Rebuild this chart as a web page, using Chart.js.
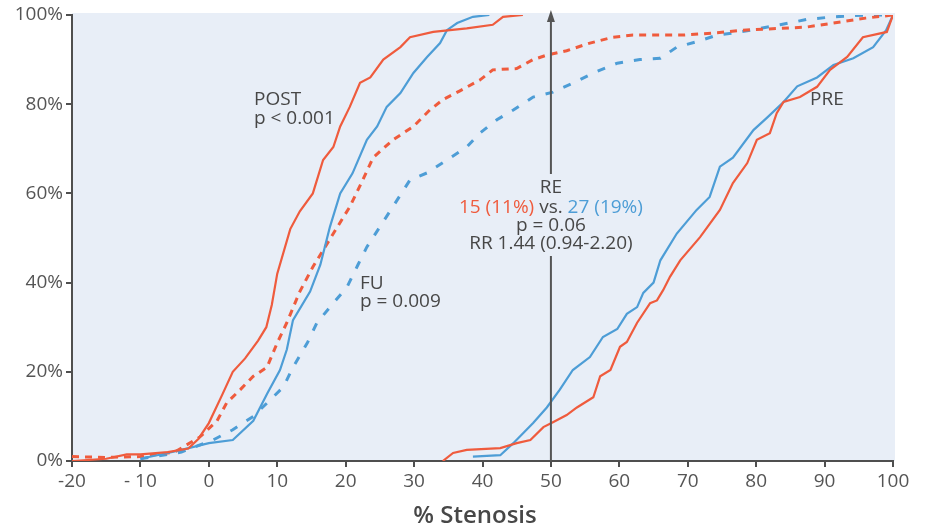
<!DOCTYPE html>
<html>
<head>
<meta charset="utf-8">
<script src="https://cdn.jsdelivr.net/npm/chart.js@4.4.1/dist/chart.umd.min.js"></script>
<style>
  html, body { margin: 0; padding: 0; background: #fff; }
  #wrap { width: 926px; height: 531px; }
</style>
</head>
<body>
<div id="wrap"><canvas id="myChart" width="926" height="531"></canvas></div>
<script>
/* global Chart */

// x ticks run -20..100, y ticks 0..100%
let xTicks = [-20, -10, 0, 10, 20, 30, 40, 50, 60, 70, 80, 90, 100];
let yTicks = [0, 20, 40, 60, 80, 100];

// POST, solid lines
let postRedX = [-20, -15, -12, -10, -6, -3, -1.5, 0, 2, 3.5, 5.3, 7.2, 8.4, 9.2, 10, 11.9, 13.3, 15.2, 16.7, 18.2, 19.2, 20.6, 22.1, 23.6, 25.5, 28, 29.4, 32.8, 37.7, 41.5, 43, 45.9];
let postRedY = [0, 0.5, 1.5, 1.5, 2, 2.8, 5, 8.5, 15, 20, 23, 27, 30, 35, 42, 52, 56, 60, 67.5, 70.4, 75, 79.4, 84.8, 86, 90, 92.8, 95, 96.2, 97, 97.8, 99.6, 100];
let postBlueX = [-10, -6, -4, 0, 3.5, 6.5, 8.5, 10.4, 11.4, 12.3, 14.8, 16.3, 17.7, 19.2, 21, 23.1, 24.6, 26, 28, 29.9, 31.9, 33.8, 34.8, 36.3, 38.6, 41];
let postBlueY = [0.5, 1.8, 2.5, 4, 4.7, 9, 15, 20.4, 25, 31.6, 38, 44, 52.5, 60, 64.5, 72, 75, 79.4, 82.5, 87, 90.6, 93.7, 96.6, 98.2, 99.6, 100];

// FU, dashed lines
let fuRedX = [-20, -15, -10, -5, -1.3, 1.2, 2.6, 4.6, 6.5, 8.5, 10, 11.4, 13.3, 15.2, 18.2, 20.6, 22.5, 24, 26.9, 29.9, 32.3, 34.2, 36.7, 39.6, 41.5, 45, 47.4, 49.4, 52.3, 55.7, 59, 62, 69.3, 74.3, 78, 83.5, 87.4, 91.3, 96, 100];
let fuRedY = [1, 0.8, 1, 2, 5.4, 9, 13, 16, 19, 21, 26.5, 31, 38, 43.5, 51, 57, 63, 68, 72, 75, 78.7, 81, 83, 85.4, 87.7, 88, 90, 91, 92, 93.7, 95, 95.5, 95.5, 96, 96.6, 97, 97.3, 98.2, 99.3, 100];
let fuBlueX = [-10, -4, -3.2, 0.6, 3.5, 6.5, 8.5, 10.9, 12.3, 14.4, 15.8, 18.2, 20.2, 21.8, 23.1, 25, 26.9, 29.4, 31.9, 34.8, 37.7, 39.6, 42.1, 44.5, 47.4, 50.3, 53.2, 56.2, 59.7, 63, 66, 68.4, 71.3, 74.3, 77.7, 80.6, 83.5, 87.4, 91.3, 96, 100];
let fuBlueY = [0.5, 2, 2.5, 4.7, 7, 10, 13, 16.6, 21, 26.5, 31, 35.4, 39, 44, 48, 52.5, 57, 63, 64.6, 67.5, 70.4, 73.5, 76.5, 78.7, 81.6, 82.7, 84.7, 87, 89.2, 90, 90.3, 92.8, 94, 95.5, 96.2, 97, 97.8, 99, 99.6, 100, 100];

// PRE, solid lines
let preRedX = [34.2, 35.7, 37.7, 42.6, 45, 47, 48.9, 50.3, 52.3, 53.8, 56.2, 57.2, 58.7, 60.1, 61.1, 62.6, 64.5, 65.5, 66.4, 67.4, 68.9, 71.8, 74.7, 76.6, 78.7, 80.1, 82, 83, 84, 86.4, 88.9, 90.8, 93.3, 95.6, 99.1, 100];
let preRedY = [0, 1.8, 2.5, 2.9, 4, 4.7, 7.6, 8.7, 10.3, 12, 14.3, 19, 20.4, 25.6, 26.7, 31, 35.4, 36, 38.3, 41.3, 45, 50.2, 56.3, 62.3, 66.8, 72, 73.5, 78, 80.5, 81.6, 83.9, 87.7, 90.6, 95, 96.2, 100];
let preBlueX = [38.6, 42.6, 44.5, 47.4, 49.4, 51.3, 53.2, 55.7, 57.6, 59.7, 61.1, 62.6, 63.5, 65, 66, 68.4, 71.3, 73.2, 74.7, 76.6, 79.6, 81.6, 84, 86, 88.9, 91.3, 94.2, 97.1, 99, 100];
let preBlueY = [1, 1.3, 4, 8.5, 12, 16, 20.4, 23.3, 27.8, 29.6, 33, 34.5, 37.7, 40, 45, 51, 56.3, 59.2, 66, 68, 74.2, 77, 80.5, 84, 86, 88.8, 90.3, 92.8, 96.6, 100];

const red = "#ef5b3d";
const blue = "#4d9dd6";
const textGray = "#474747";
const axisGray = "#4f4f4f";
const plotBg = "#e8eef7";
const font = "'Open Sans', sans-serif";

function pts(xs, ys) {
  return xs.map(function (x, i) {
    return { x: x, y: ys[i] };
  });
}

function series(label, xs, ys, color, dash, width) {
  return {
    label: label,
    data: pts(xs, ys),
    borderColor: color,
    borderWidth: width,
    borderDash: dash,
    pointRadius: 0,
    tension: 0,
    fill: false,
  };
}

const plotBackground = {
  id: "plotBackground",
  beforeDraw(chart) {
    const a = chart.chartArea;
    const c = chart.ctx;
    c.save();
    c.fillStyle = plotBg;
    c.fillRect(a.left, a.top - 2, a.right - a.left + 2, a.bottom - a.top + 2);
    c.restore();
  },
};

const notes = {
  id: "notes",
  afterDatasetsDraw(chart) {
    const c = chart.ctx;
    const xs = chart.scales.x;
    const ys = chart.scales.y;
    const ax = xs.getPixelForValue(50);
    c.save();
    // arrow at 50%, with a gap where the RE text sits
    c.strokeStyle = "#555";
    c.lineWidth = 2;
    c.beginPath();
    c.moveTo(ax, ys.getPixelForValue(0));
    c.lineTo(ax, 256);
    c.moveTo(ax, 174);
    c.lineTo(ax, 20);
    c.stroke();
    c.fillStyle = "#555";
    c.beginPath();
    c.moveTo(ax, 10);
    c.lineTo(ax - 4, 22);
    c.lineTo(ax + 4, 22);
    c.closePath();
    c.fill();

    c.font = "19px " + font;
    c.textBaseline = "middle";
    c.fillStyle = textGray;
    c.textAlign = "left";
    c.fillText("POST", 254, 100);
    c.fillText("p < 0.001", 254, 119);
    c.fillText("FU", 360, 284);
    c.fillText("p = 0.009", 360, 302);
    c.fillText("PRE", 810, 100);

    c.textAlign = "center";
    c.fillText("RE", ax, 188);
    c.fillText("p = 0.06", ax, 226);
    c.fillText("RR 1.44 (0.94-2.20)", ax, 244);

    // coloured middle line
    const p1 = "15 (11%) ";
    const p2 = "vs. ";
    const p3 = "27 (19%)";
    const w1 = c.measureText(p1).width;
    const w2 = c.measureText(p2).width;
    const w3 = c.measureText(p3).width;
    let sx = ax - (w1 + w2 + w3) / 2;
    c.textAlign = "left";
    c.fillStyle = red;
    c.fillText(p1, sx, 208);
    c.fillStyle = textGray;
    c.fillText(p2, sx + w1, 208);
    c.fillStyle = blue;
    c.fillText(p3, sx + w1 + w2, 208);

    // axis title
    c.font = "600 24px " + font;
    c.textAlign = "center";
    c.fillStyle = textGray;
    c.fillText("% Stenosis", 475, 516);
    c.restore();
  },
};

const ctx = document.getElementById("myChart");
const myChart = new Chart(ctx, {
  type: "line",
  data: {
    datasets: [
      series("POST red", postRedX, postRedY, red, [], 2.2),
      series("POST blue", postBlueX, postBlueY, blue, [], 2.2),
      series("FU red", fuRedX, fuRedY, red, [7, 6], 3),
      series("FU blue", fuBlueX, fuBlueY, blue, [8, 11], 3),
      series("PRE red", preRedX, preRedY, red, [], 2.2),
      series("PRE blue", preBlueX, preBlueY, blue, [], 2.2),
    ],
  },
  plugins: [plotBackground, notes],
  options: {
    responsive: false,
    animation: false,
    layout: { padding: { left: 0, top: 15, right: 33, bottom: 0 } },
    plugins: {
      legend: { display: false },
      tooltip: { enabled: false },
    },
    scales: {
      x: {
        type: "linear",
        min: -20,
        max: 100,
        afterBuildTicks(scale) {
          scale.ticks = xTicks.map(function (v) {
            return { value: v };
          });
        },
        afterFit(scale) {
          scale.height = 70;
        },
        ticks: {
          color: "#555",
          font: { family: font, size: 19 },
          padding: 3,
          maxRotation: 0,
          callback: function (v) {
            return v === -10 ? "- 10" : String(v);
          },
        },
        grid: {
          drawOnChartArea: false,
          color: axisGray,
          lineWidth: 2,
          tickLength: 6,
        },
        border: { display: true, color: axisGray, width: 2 },
      },
      y: {
        min: 0,
        max: 100,
        afterBuildTicks(scale) {
          scale.ticks = yTicks.map(function (v) {
            return { value: v };
          });
        },
        afterFit(scale) {
          scale.width = 72;
        },
        ticks: {
          color: "#555",
          font: { family: font, size: 19 },
          padding: 3,
          callback: function (v) {
            return v + "%";
          },
        },
        grid: {
          drawOnChartArea: false,
          color: axisGray,
          lineWidth: 2,
          tickLength: 6,
        },
        border: { display: true, color: axisGray, width: 2 },
      },
    },
  },
});
</script>
</body>
</html>
